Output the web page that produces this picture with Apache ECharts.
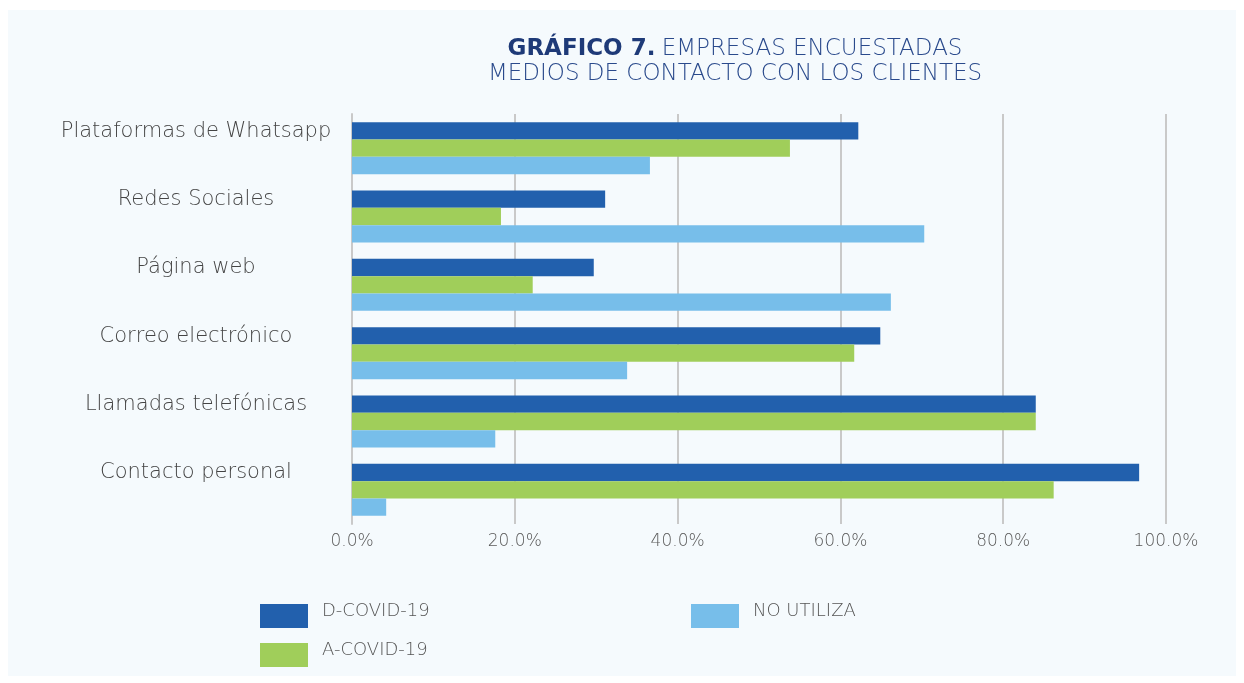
<!DOCTYPE html>
<html>
<head>
<meta charset="utf-8">
<title>Gráfico 7</title>
<script src="https://cdn.jsdelivr.net/npm/echarts@6/dist/echarts.min.js"></script>
<style>
  html,body{margin:0;padding:0;background:#fff;}
  #main{width:1244px;height:683px;}
</style>
</head>
<body>
<div id="main"></div>
<script>
var categorias = ['Plataformas de Whatsapp', 'Redes Sociales', 'Página web', 'Correo electrónico', 'Llamadas telefónicas', 'Contacto personal'];
var dCovid = [62.2, 31.1, 29.7, 64.9, 84.0, 96.7];
var aCovid = [53.8, 18.3, 22.2, 61.7, 84.0, 86.2];
var noUtiliza = [36.6, 70.3, 66.2, 33.8, 17.6, 4.2];
var ticksX = [0, 20, 40, 60, 80, 100];

var grafico = {
  init:function (){
    this.echarts();
  },
  echarts:function (){
    var el = document.getElementById('main');
    if(!el) return;
    var myChart = echarts.init(el);
    var fuente = "'DejaVu Sans', 'Open Sans', sans-serif";
    /*texto de leyenda, un poco por encima del cuadro*/
    var leyendaTexto = {
      fontFamily:fuente, fontSize:18, fontWeight:200, color:'#555',
      rich:{
        a:{fontFamily:fuente, fontSize:18, fontWeight:200, color:'#555', lineHeight:20, padding:[0,0,0,9]},
        s:{lineHeight:10, fontSize:1}
      }
    };
    var option = {
      backgroundColor:'#ffffff',
      animation:false,
      textStyle:{fontFamily:fuente},
      graphic:[
        {type:'rect', z:-10, shape:{x:8, y:10, width:1228, height:666}, style:{fill:'#f5fafd'}}
      ],
      title:{
        left:730,
        top:32,
        textAlign:'center',
        text:'{b|GRÁFICO 7.} {r|EMPRESAS ENCUESTADAS}\n{r|MEDIOS DE CONTACTO CON LOS CLIENTES}',
        textStyle:{
          rich:{
            b:{fontFamily:fuente, fontSize:23, fontWeight:'bold', color:'#1e3a78', lineHeight:25},
            r:{fontFamily:fuente, fontSize:23, fontWeight:200, color:'#2a4a8c', lineHeight:25}
          }
        }
      },
      legend:[
        {
          data:['D-COVID-19','A-COVID-19'],
          orient:'vertical',
          left:260, top:602, padding:0,
          itemWidth:48, itemHeight:24, itemGap:13,
          icon:'rect',
          formatter:'{a|{name}}\n{s|}',
          textStyle:leyendaTexto
        },
        {
          data:['NO UTILIZA'],
          orient:'vertical',
          left:691, top:602, padding:0,
          itemWidth:48, itemHeight:24,
          icon:'rect',
          formatter:'{a|{name}}\n{s|}',
          textStyle:leyendaTexto
        }
      ],
      grid:{left:352, right:78, top:114, bottom:159},
      xAxis:{
        type:'value',
        min:ticksX[0],
        max:ticksX[ticksX.length-1],
        interval:20,
        axisLine:{show:false},
        axisTick:{show:false},
        splitLine:{lineStyle:{color:'#c9c9c9', width:2}},
        axisLabel:{
          margin:9,
          fontFamily:fuente, fontSize:17, fontWeight:200, color:'#5a5a5a',
          formatter:function (v){ return v.toFixed(1) + '%'; }
        }
      },
      yAxis:{
        type:'category',
        data:categorias,
        inverse:true,
        axisTick:{show:false},
        axisLine:{show:true, lineStyle:{color:'#c9c9c9', width:2}},
        axisLabel:{
          margin:156,
          align:'center',
          formatter:function (v){ return '{a|' + v + '}\n{s|}'; },
          rich:{
            a:{fontFamily:fuente, fontSize:21, fontWeight:200, color:'#444', lineHeight:24, align:'center'},
            s:{lineHeight:34, fontSize:1}
          }
        }
      },
      series:[
        {name:'D-COVID-19', type:'bar', data:dCovid, barGap:'0%', barCategoryGap:'24%', itemStyle:{color:'#2260ad'}},
        {name:'A-COVID-19', type:'bar', data:aCovid, barGap:'0%', barCategoryGap:'24%', itemStyle:{color:'#a0ce5a'}},
        {name:'NO UTILIZA', type:'bar', data:noUtiliza, barGap:'0%', barCategoryGap:'24%', itemStyle:{color:'#77beea'}}
      ]
    };
    myChart.setOption(option);
  }
};

grafico.init();
</script>
</body>
</html>
